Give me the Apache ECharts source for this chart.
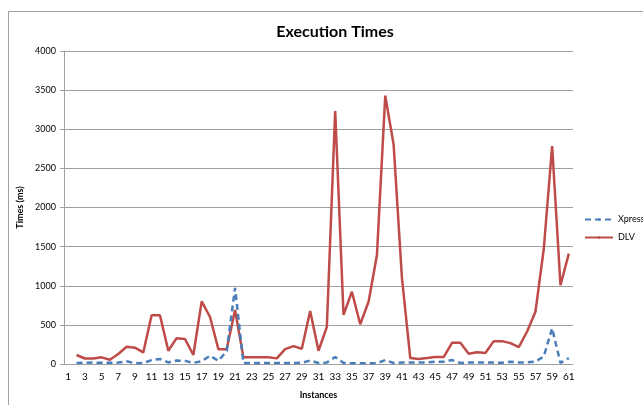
<!DOCTYPE html>
<html>
<head>
<meta charset="utf-8">
<script src="https://cdn.jsdelivr.net/npm/echarts@6/dist/echarts.min.js"></script>
<style>html,body{margin:0;padding:0;background:#fff;}#c{width:643px;height:405px;}</style>
</head>
<body>
<div id="c"></div>
<script>
var categories = [];
for (var i = 1; i <= 61; i++) categories.push(String(i));
var seriesNames = ['Xpress', 'DLV'];
var xpress = [null, 13, 15, 18, 15, 15, 18, 34, 10, 13, 50, 64, 20, 45, 40, 15, 35, 106, 40, 165, 973,
  13, 13, 13, 13, 13, 13, 13, 15, 45, 13, 20, 90, 13, 10, 10, 10, 10, 50, 13, 20, 20, 20, 20, 30,
  30, 50, 13, 20, 20, 20, 20, 15, 30, 20, 20, 30, 97, 457, 13, 76];
var dlv = [null, 115, 70, 70, 85, 55, 127, 220, 209, 148, 622, 622, 169, 330, 320, 115, 800, 601, 190, 190, 690,
  85, 85, 85, 85, 72, 190, 229, 195, 678, 169, 474, 3234, 627, 923, 508, 796, 1389, 3429, 2807, 1100,
  76, 64, 76, 89, 89, 271, 271, 131, 150, 140, 292, 292, 267, 216, 415, 669, 1473, 2786, 1007, 1410];
var yTitle = 'Times (ms)';
var xTitle = 'Instances';
var chartTitle = 'Execution Times';

var chart = echarts.init(document.getElementById('c'), null, {renderer: 'canvas'});
chart.setOption({
  animation: false,
  backgroundColor: '#fff',
  title: {
    text: chartTitle, left: 330, top: 19, textAlign: 'center',
    textStyle: {fontFamily: 'Lato', fontWeight: 'bold', fontSize: 16, color: '#000'}
  },
  graphic: [{
    type: 'rect', silent: true,
    shape: {x: 8.5, y: 11.5, width: 700, height: 500},
    style: {fill: 'none', stroke: '#a0a0a0', lineWidth: 1}
  }],
  legend: {
    orient: 'vertical', left: 579, top: 210, itemGap: 9,
    itemWidth: 28, itemHeight: 3,
    textStyle: {fontFamily: 'Lato', fontSize: 9, color: '#000'},
    data: seriesNames
  },
  grid: {left: 64, right: 70, top: 51, bottom: 39, containLabel: false},
  xAxis: {
    type: 'category', data: categories, boundaryGap: true,
    name: xTitle, nameLocation: 'middle', nameGap: 27,
    nameTextStyle: {fontFamily: 'Lato', fontWeight: 'bold', fontSize: 9, color: '#000'},
    axisLine: {lineStyle: {color: '#a0a0a0'}},
    axisTick: {show: false},
    axisLabel: {interval: 1, fontFamily: 'Lato', fontSize: 10, color: '#000', margin: 8}
  },
  yAxis: {
    type: 'value', min: 0, max: 4000, interval: 500,
    name: yTitle, nameLocation: 'middle', nameGap: 37, nameRotate: 90,
    nameTextStyle: {fontFamily: 'Lato', fontWeight: 'bold', fontSize: 9, color: '#000'},
    axisLine: {show: true, lineStyle: {color: '#a0a0a0'}},
    axisTick: {show: true, length: 4, lineStyle: {color: '#a0a0a0'}},
    axisLabel: {fontFamily: 'Lato', fontSize: 9, color: '#000', margin: 8,
      formatter: function (v) { return String(v); }},
    splitLine: {lineStyle: {color: '#a0a0a0', width: 1}}
  },
  series: [
    {name: seriesNames[0], type: 'line', data: xpress, symbol: 'none',
     itemStyle: {color: '#4a7ebb'},
     lineStyle: {color: '#4a7ebb', width: 2.5, type: [6, 4]}, z: 3},
    {name: seriesNames[1], type: 'line', data: dlv, symbol: 'none',
     itemStyle: {color: '#be4b48'},
     lineStyle: {color: '#be4b48', width: 2.5}, z: 2}
  ]
});
</script>
</body>
</html>
